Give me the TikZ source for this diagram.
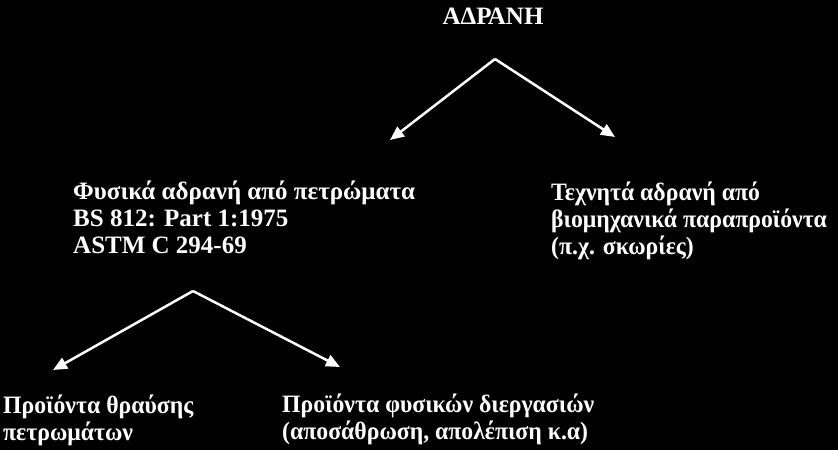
\documentclass[tikz,border=0pt]{standalone}
\usepackage{fontspec}
\setmainfont{Liberation Serif}
\newfontfamily\grnarrow[FakeStretch=0.95]{Liberation Serif}
\usetikzlibrary{arrows.meta}
\begin{document}
\begin{tikzpicture}[x=1pt,y=-1pt,
  txt/.style={text=white,font=\bfseries\fontsize{25}{27}\selectfont,align=left,inner sep=0pt,anchor=base west},
  gtxt/.style={txt,font=\grnarrow\bfseries\fontsize{25}{27}\selectfont},
  arr/.style={draw=white,line width=2.5pt,-{Triangle[length=14pt,width=12pt]}}]
\fill[black] (0,0) rectangle (838,450);
\useasboundingbox (0,0) rectangle (838,450);
\node[txt,anchor=base] (root) at (493,24) {ΑΔΡΑΝΗ};
\coordinate (apex1) at (495,59);
\coordinate (tip1l) at (390,140);
\coordinate (tip1r) at (615,137);
\node[txt] (nat) at (73,253) {Φυσικά αδρανή από πετρώματα\\BS 812: Part 1:1975\\ASTM C 294-69};
\node[gtxt] (art) at (551,254) {Τεχνητά αδρανή από\\βιομηχανικά παραπροϊόντα\\(π.χ. σκωρίες)};
\coordinate (apex2) at (193,291);
\coordinate (tip2l) at (53,370);
\coordinate (tip2r) at (340,367);
\node[gtxt] (crush) at (3,440) {Προϊόντα θραύσης\\πετρωμάτων};
\node[gtxt] (proc) at (282,439) {Προϊόντα φυσικών διεργασιών\\(αποσάθρωση, απολέπιση κ.α)};
\draw[arr] (apex1) -- (tip1l);
\draw[arr] (apex1) -- (tip1r);
\draw[arr] (apex2) -- (tip2l);
\draw[arr] (apex2) -- (tip2r);
\end{tikzpicture}
\end{document}
